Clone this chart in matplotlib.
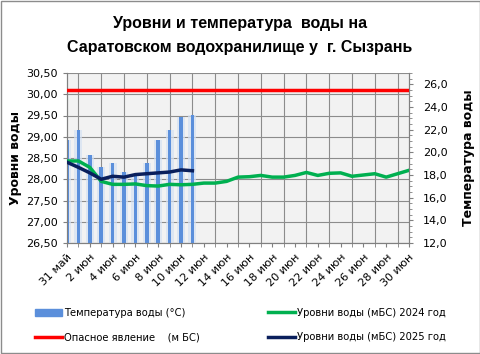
import matplotlib
matplotlib.use('Agg')
import matplotlib.pyplot as plt
from matplotlib.ticker import MultipleLocator, FuncFormatter
from matplotlib.lines import Line2D
from matplotlib.patches import Patch

# Data
days = ['31 май'] + [f'{d} июн' for d in range(1, 31)]
temp_2025 = [21.1, 22.0, 19.8, 18.7, 19.1, 18.3, 18.1, 19.1, 21.1, 22.0, 23.1, 23.3]
level_2025 = [28.40, 28.28, 28.15, 28.00, 28.07, 28.05, 28.11, 28.13, 28.15, 28.17, 28.22, 28.20]
level_2024 = [28.43, 28.43, 28.28, 27.95, 27.88, 27.88, 27.89, 27.85, 27.84, 27.88, 27.87,
              27.88, 27.91, 27.91, 27.95, 28.05, 28.06, 28.09, 28.05, 28.05, 28.09, 28.16,
              28.09, 28.14, 28.15, 28.07, 28.10, 28.13, 28.05, 28.13, 28.21]
danger_level = 30.10

BLUE = '#5B8FDB'
GREEN = '#00B050'
RED = '#FF0000'
NAVY = '#0A1F5C'

plt.rcParams['font.family'] = ['DejaVu Sans']

fig = plt.figure(figsize=(4.81, 3.54), dpi=100)
ax = fig.add_axes([67 / 481, 1 - 243 / 354, (409 - 67) / 481, (243 - 73) / 354])
ax.set_facecolor('#F2F2F2')
ax2 = ax.twinx()
ax2.patch.set_visible(False)

x = list(range(len(days)))
xt = x[:len(temp_2025)]

ax.set_xlim(0, 30)
ax.set_ylim(26.5, 30.5)
ax2.set_ylim(12, 27)

# temperature bars on right axis (soft halo + core)
ax2.bar(xt, [t - 12 for t in temp_2025], bottom=12, width=0.7, color='#D5E1F3', alpha=0.7, zorder=1)
ax2.bar(xt, [t - 12 for t in temp_2025], bottom=12, width=0.3, color=BLUE, zorder=2)

# water levels drawn above the bars, in the left axis scale
ax2.plot(x, [danger_level] * len(x), color=RED, lw=2.5, zorder=3, transform=ax.transData)
ax2.plot(x, level_2024, color=GREEN, lw=2.5, zorder=4, transform=ax.transData)
ax2.plot(xt, level_2025, color=NAVY, lw=2.5, zorder=5, transform=ax.transData)
ax2.set_ylim(12, 27)

ax.yaxis.set_major_locator(MultipleLocator(0.5))
ax.yaxis.set_major_formatter(FuncFormatter(lambda v, p: f'{v:.2f}'.replace('.', ',')))
ax2.yaxis.set_major_locator(MultipleLocator(2))
ax2.yaxis.set_minor_locator(MultipleLocator(0.5))
ax2.yaxis.set_major_formatter(FuncFormatter(lambda v, p: f'{v:.1f}'.replace('.', ',')))

ax.set_xticks(x, minor=True)
ax.set_xticks(x[::2])
ax.set_xticklabels(days[::2], rotation=45, ha='right', rotation_mode='anchor', fontsize=8)
ax.tick_params(axis='x', which='both', length=3, color='#808080')
ax.tick_params(axis='y', labelsize=8, length=3, color='#808080')
ax2.tick_params(axis='y', which='both', labelsize=8, length=3, color='#808080', pad=7)
ax2.tick_params(axis='y', which='minor', length=2)

ax.grid(True, which='minor', axis='x', color='#8C8C8C', lw=0.8)
ax.grid(True, which='major', axis='y', color='#8C8C8C', lw=0.8)

for a in (ax, ax2):
    for s in a.spines.values():
        s.set_color('#808080')
    a.spines['top'].set_visible(False)

ax.set_ylabel('Уровни воды', fontsize=9, fontweight='bold', labelpad=3)
ax2.set_ylabel('Температура воды', fontsize=9, fontweight='bold', labelpad=10)

fig.text(0.499, 0.935, 'Уровни и температура  воды на', ha='center', va='center',
         fontsize=11.5, fontweight='bold', family='Liberation Sans')
fig.text(0.499, 0.865, 'Саратовском водохранилище у  г. Сызрань', ha='center', va='center',
         fontsize=11.5, fontweight='bold', family='Liberation Sans')

handles = [Patch(color=BLUE), Line2D([], [], color=RED, lw=2.5),
           Line2D([], [], color=GREEN, lw=2.5), Line2D([], [], color=NAVY, lw=2.5)]
labels = ['Температура воды (°C)', 'Опасное явление    (м БС)',
          'Уровни воды (мБС) 2024 год', 'Уровни воды (мБС) 2025 год']
fig.legend(handles, labels, ncol=2, loc='upper left', bbox_to_anchor=(0.072, 0.13),
           frameon=False, fontsize=7.2, handlelength=2.7, handletextpad=0.25,
           columnspacing=6.8, labelspacing=1.45, borderaxespad=0, borderpad=0)

fig.patches.append(plt.Rectangle((0.002, 0.003), 0.995, 0.994, transform=fig.transFigure,
                                 fill=False, edgecolor='#8C8C8C', lw=1))

fig.savefig('out.png', dpi=100)
